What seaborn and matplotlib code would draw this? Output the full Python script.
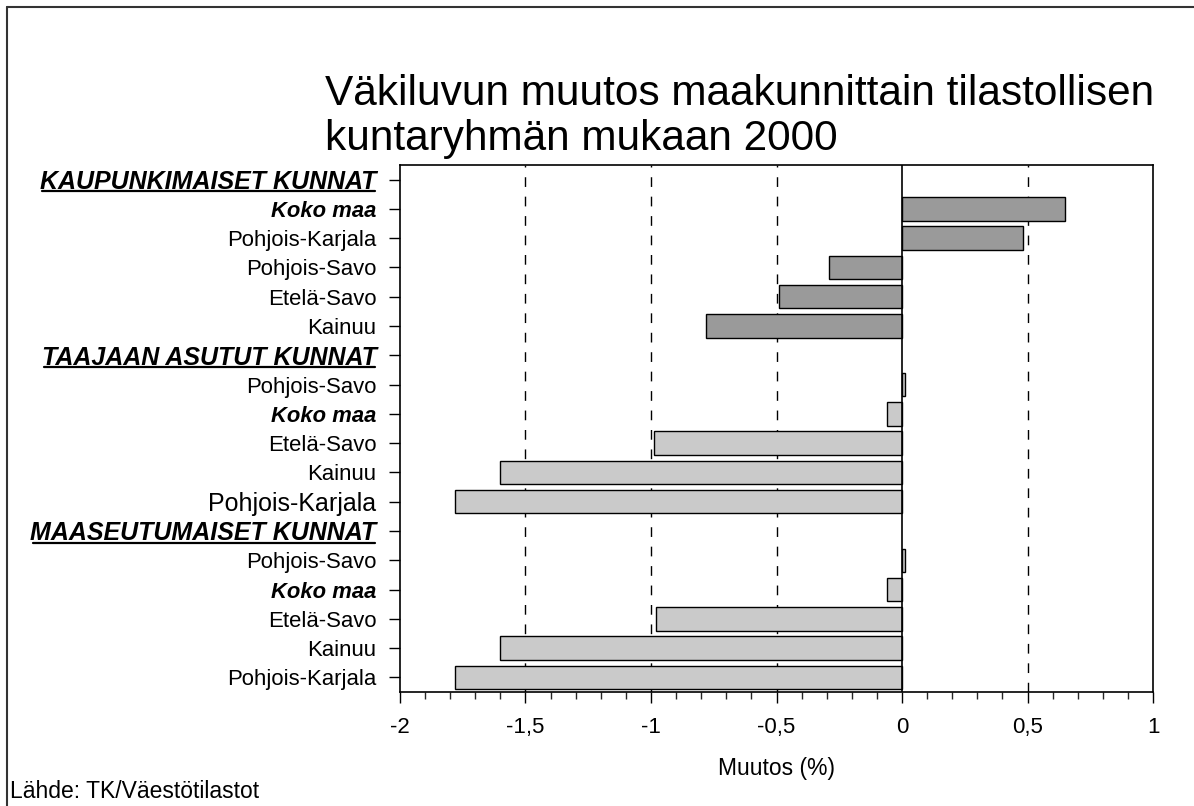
import matplotlib
matplotlib.use('Agg')

import seaborn as sns
import numpy as np
import pandas as pd
import matplotlib.pyplot as plt

from matplotlib import ticker
from matplotlib.lines import Line2D

OUT = 'out.png'

# rivit ylhäältä alas
rivit = ['KAUPUNKIMAISET KUNNAT', 'Koko maa', 'Pohjois-Karjala', 'Pohjois-Savo', 'Etelä-Savo', 'Kainuu',
         'TAAJAAN ASUTUT KUNNAT', 'Pohjois-Savo', 'Koko maa', 'Etelä-Savo', 'Kainuu', 'Pohjois-Karjala',
         'MAASEUTUMAISET KUNNAT', 'Pohjois-Savo', 'Koko maa', 'Etelä-Savo', 'Kainuu', 'Pohjois-Karjala']
ryhma = ['kaupunki'] * 6 + ['taajama'] * 6 + ['maaseutu'] * 6
muutos = [np.nan, 0.65, 0.48, -0.29, -0.49, -0.78,
          np.nan, 0.01, -0.06, -0.99, -1.60, -1.78,
          np.nan, 0.01, -0.06, -0.98, -1.60, -1.78]
otsikot = ['KAUPUNKIMAISET KUNNAT', 'TAAJAAN ASUTUT KUNNAT', 'MAASEUTUMAISET KUNNAT']
title_rivit = ['Väkiluvun muutos maakunnittain tilastollisen', 'kuntaryhmän mukaan 2000']

x_ticks = [-2, -1.5, -1, -0.5, 0, 0.5, 1]

palette = {'kaupunki': '#9a9a9a', 'taajama': '#cacaca', 'maaseutu': '#cacaca'}


def pilkku(v, pos):
    s = '{:g}'.format(v)
    return s.replace('.', ',')


def underline(fig, ax, labels):
    fig.canvas.draw()
    renderer = fig.canvas.get_renderer()
    inv = fig.transFigure.inverted()
    for lab in labels:
        bb = lab.get_window_extent(renderer)
        (x0, y0), (x1, y1) = inv.transform([(bb.x0, bb.y0), (bb.x1, bb.y1)])
        y = y0 + (y1 - y0) * 0.12
        fig.add_artist(Line2D([x0 + 0.002, x1 - 0.001], [y, y], transform=fig.transFigure,
                              color='black', lw=1.6))


def barplot():
    sns.set_theme(style='white')
    plt.rcParams['font.family'] = ['Liberation Sans', 'DejaVu Sans']

    data = pd.DataFrame({'rivi': [str(i) for i in range(len(rivit))],
                         'ryhma': ryhma, 'muutos': muutos})

    fig = plt.figure(figsize=(11.94, 8.06), dpi=100)
    ax = fig.add_axes([0.335, 0.1414, 0.6307, 0.6539])

    g = sns.barplot(data=data, x='muutos', y='rivi', hue='ryhma', order=list(data['rivi']),
                    palette=palette, dodge=False, width=0.8, edgecolor='black', linewidth=1,
                    legend=False, ax=ax, zorder=3)

    g.set_xlim(-2, 1)
    g.set_ylim(len(rivit) - 0.5, -0.5)

    for v in [-1.5, -1, -0.5, 0.5]:
        g.axvline(v, color='black', lw=1, ls=(0, (7, 7)), zorder=1)
    g.axvline(0, color='black', lw=1.2, zorder=4)

    g.xaxis.set_major_locator(ticker.FixedLocator(x_ticks))
    g.xaxis.set_minor_locator(ticker.MultipleLocator(0.1))
    g.xaxis.set_major_formatter(ticker.FuncFormatter(pilkku))
    g.tick_params(axis='x', which='major', direction='out', length=8, width=1, pad=10,
                  labelsize=16, bottom=True, colors='black')
    g.tick_params(axis='x', which='minor', direction='out', length=5, width=1, bottom=True)
    g.tick_params(axis='y', direction='out', length=8, width=1, pad=9, left=True, colors='black')

    g.set_yticks(range(len(rivit)))
    g.set_yticklabels(rivit)
    head_labels = []
    for i, lab in enumerate(g.get_yticklabels()):
        teksti = rivit[i]
        lab.set_color('black')
        if teksti in otsikot:
            lab.set_fontsize(18)
            lab.set_fontweight('bold')
            lab.set_fontstyle('italic')
            head_labels.append(lab)
        elif teksti == 'Koko maa':
            lab.set_fontsize(15.8)
            lab.set_fontweight('bold')
            lab.set_fontstyle('italic')
        elif i == 11:
            lab.set_fontsize(18)
        else:
            lab.set_fontsize(15.9)

    for s in g.spines.values():
        s.set_visible(True)
        s.set_color('black')
        s.set_linewidth(1.2)

    plt.xlabel('Muutos (%)', fontsize=16.5, labelpad=14, color='black')
    plt.ylabel('')

    # otsikko kahdella rivillä, peruslinjat
    fig.text(0.272, 1 - 105 / 806, title_rivit[0], fontsize=30.5, ha='left', va='baseline',
             color='black')
    fig.text(0.272, 1 - 150 / 806, title_rivit[1], fontsize=30.5, ha='left', va='baseline',
             color='black')
    fig.text(0.008, 0.004, 'Lähde: TK/Väestötilastot', fontsize=16.5, ha='left', va='bottom',
             color='black')

    # kehys kuvan ympärillä
    fig.add_artist(Line2D([0.006, 0.006], [0.0, 0.9913], transform=fig.transFigure,
                          color='#333333', lw=1.5))
    fig.add_artist(Line2D([0.006, 1.0], [0.9913, 0.9913], transform=fig.transFigure,
                          color='#333333', lw=1.5))

    underline(fig, g, head_labels)

    plt.savefig(OUT, dpi=100, facecolor='white')
    plt.close('all')


barplot()
